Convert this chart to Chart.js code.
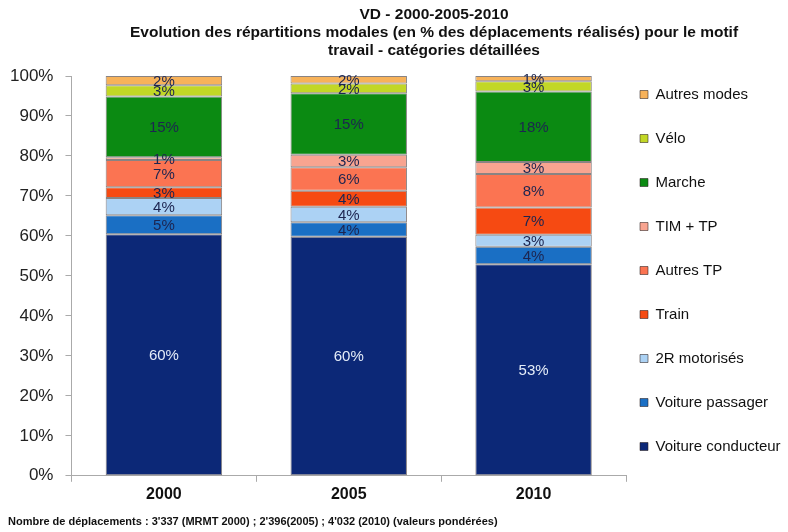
<!DOCTYPE html>
<html>
<head>
<meta charset="utf-8">
<script src="https://cdn.jsdelivr.net/npm/chart.js@4"></script>
<style>
  body { margin: 0; background: #fff; }
  #wrap { width: 788px; height: 532px; position: relative; }
</style>
</head>
<body>
<div id="wrap"><canvas id="modalChart"></canvas></div>
<script>
// Categories (years)
const categories = ['2000', '2005', '2010'];

// Shares in % per mode
const voitureConducteur = [60.4, 59.8, 52.9];
const voiturePassager = [4.8, 3.6, 4.4];
const deuxRoues = [4.3, 3.9, 3.0];
const train = [2.7, 4.0, 6.8];
const autresTP = [6.8, 5.9, 8.4];
const timTP = [0.7, 3.1, 3.0];
const marche = [15.2, 15.4, 17.6];
const velo = [2.8, 2.4, 2.6];
const autresModes = [2.3, 1.9, 1.3];

const yTicks = [0, 10, 20, 30, 40, 50, 60, 70, 80, 90, 100];

const titleLines = [
  'VD - 2000-2005-2010',
  'Evolution des répartitions modales (en % des déplacements réalisés) pour le motif',
  'travail - catégories détaillées'
];
const footnote = "Nombre de déplacements : 3'337 (MRMT 2000) ; 2'396(2005) ; 4'032 (2010) (valeurs pondérées)";

const FONT = '"Liberation Sans", Arial, sans-serif';

function series(label, data, color, textColor) {
  return {
    label: label,
    data: data,
    backgroundColor: color,
    borderColor: 'rgba(40, 30, 30, 0.55)',
    borderWidth: 1,
    borderSkipped: false,
    barPercentage: 0.63,
    categoryPercentage: 1,
    labelColor: textColor || '#1d2550'
  };
}

// Draw the % value in the middle of each segment
const segmentLabels = {
  id: 'segmentLabels',
  afterDatasetsDraw(chart) {
    const ctx = chart.ctx;
    ctx.save();
    ctx.font = '15px ' + FONT;
    ctx.textAlign = 'center';
    ctx.textBaseline = 'middle';
    chart.data.datasets.forEach((ds, i) => {
      const meta = chart.getDatasetMeta(i);
      meta.data.forEach((bar, j) => {
        const y = (bar.y + bar.base) / 2;
        ctx.fillStyle = ds.labelColor;
        ctx.fillText(Math.round(ds.data[j]) + '%', bar.x, y + 1);
      });
    });
    ctx.restore();
  }
};

// Legend: fixed width on the right, moved a bit up and left
const legendPlace = {
  id: 'legendPlace',
  beforeLayout(chart) {
    const lg = chart.legend;
    if (lg && !lg._fixed) {
      const fit = lg.fit.bind(lg);
      lg.fit = function () { fit(); this.width = 162; };
      lg._fixed = true;
    }
  },
  afterLayout(chart) {
    const lg = chart.legend;
    lg.left = 611;
    lg.right = 788;
    lg.top -= 21;
    lg.bottom -= 21;
  }
};

// Title block and footnote at fixed places
const textBlocks = {
  id: 'textBlocks',
  afterDraw(chart) {
    const ctx = chart.ctx;
    ctx.save();
    ctx.fillStyle = '#111';
    ctx.textAlign = 'center';
    ctx.textBaseline = 'middle';
    ctx.font = 'bold 15.5px ' + FONT;
    titleLines.forEach((t, i) => ctx.fillText(t, 434, 15 + i * 18));
    ctx.textAlign = 'left';
    ctx.font = 'bold 11px ' + FONT;
    ctx.fillText(footnote, 8, 522);
    ctx.restore();
  }
};

new Chart('modalChart', {
  type: 'bar',
  data: {
    labels: categories,
    datasets: [
      series('Voiture conducteur', voitureConducteur, '#0c2877', '#e4ecf8'),
      series('Voiture passager', voiturePassager, '#1a6fc4'),
      series('2R motorisés', deuxRoues, '#acd2f4'),
      series('Train', train, '#f64a12'),
      series('Autres TP', autresTP, '#fb7452'),
      series('TIM + TP', timTP, '#f8a490'),
      series('Marche', marche, '#0b8a12'),
      series('Vélo', velo, '#c2d726'),
      series('Autres modes', autresModes, '#f7b25a')
    ]
  },
  options: {
    responsive: true,
    maintainAspectRatio: false,
    animation: false,
    layout: { padding: { top: 76, bottom: 25, left: -2, right: 0 } },
    plugins: {
      title: { display: false },
      tooltip: { enabled: false },
      legend: {
        position: 'right',
        reverse: true,
        labels: {
          boxWidth: 8,
          boxHeight: 8,
          padding: 29,
          color: '#111',
          font: { family: FONT, size: 15 }
        }
      }
    },
    scales: {
      x: {
        stacked: true,
        offset: true,
        grid: { offset: true, drawOnChartArea: false, drawTicks: true, tickLength: 6, color: '#aaa' },
        border: { color: '#aaa' },
        ticks: { color: '#111', font: { family: FONT, size: 16, weight: 'bold' }, padding: 3 }
      },
      y: {
        stacked: true,
        min: 0,
        max: 100,
        afterBuildTicks: (axis) => { axis.ticks = yTicks.map(v => ({ value: v })); },
        grid: { drawOnChartArea: false, drawTicks: true, tickLength: 6, color: '#aaa' },
        border: { color: '#aaa' },
        ticks: { color: '#222', font: { family: FONT, size: 17 }, padding: 12, callback: v => v + '%' }
      }
    }
  },
  plugins: [segmentLabels, legendPlace, textBlocks]
});
</script>
</body>
</html>
